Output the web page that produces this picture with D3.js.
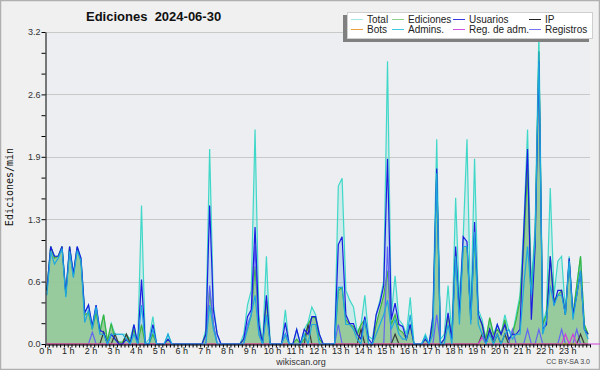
<!DOCTYPE html>
<html><head><meta charset="utf-8">
<script src="https://cdn.jsdelivr.net/npm/d3@7"></script>
<style>
html,body{margin:0;padding:0;background:#f0f0f0;}
svg{display:block;font-family:"Liberation Sans",Arial,sans-serif;}
</style>
</head><body>
<svg id="c" width="600" height="370"></svg>
<script>
const chartTitle = "Ediciones  2024-06-30";
const yTitle = "Ediciones/min";
const footerLeft = "wikiscan.org";
const footerRight = "CC BY-SA 3.0";
const hourLabels = ["0 h","1 h","2 h","3 h","4 h","5 h","6 h","7 h","8 h","9 h","10 h","11 h",
  "12 h","13 h","14 h","15 h","16 h","17 h","18 h","19 h","20 h","21 h","22 h","23 h"];
const yMajor = [0, 0.64, 1.28, 1.92, 2.56, 3.2];
const yMajorLabels = ["0.0","0.6","1.3","1.9","2.6","3.2"];
const seriesNames = ["Total","Ediciones","Usuarios","IP","Bots","Admins.","Reg. de adm.","Registros"];

// values per 10 minutes (6 per hour, one row per hour)
const total = [
 0.55,1.0,0.9,0.9,1.0,0.52,
 1.0,0.72,1.0,0.88,0.32,0.4,
 0.18,0.4,0.14,0.3,0.03,0.21,
 0.1,0.1,0.1,0.1,0.05,0.2,
 0,1.42,0,0.05,0.28,0,
 0,0,0.1,0,0,0,
 0,0,0,0,0,0,
 0.15,2.0,0.4,0.1,0,0,
 0,0,0,0,0.1,0.4,
 0.55,2.2,0.3,0,0.9,0,
 0,0,0,0.35,0,0,
 0.15,0,0.15,0.22,0.38,0.3,
 0.1,0,0,0,0,1.62,
 1.7,0.55,0.45,0.38,0.12,0.2,
 0.5,0.08,0.05,0.3,0.45,0.65,
 2.9,0.3,0.7,0.25,0.2,0.1,
 0.48,0,0,0,0.1,0,
 0.3,2.1,0.05,0.1,0.6,0.1,
 1.5,0.45,1.1,2.1,0.28,1.9,
 0.35,0.25,0.05,0.25,0.1,0.2,
 0.1,0.3,0.15,0.1,0.3,0.5,
 1.2,2.2,0.6,1.2,3.2,0.2,
 0.35,1.6,0.5,0.85,0.9,0.33,
 0.9,0.3,0.6,0.9,0.2,0.1];
const ediciones = [
 0.55,1.0,0.88,0.9,1.0,0.5,
 1.0,0.7,0.98,0.85,0.3,0.32,
 0.15,0.32,0.12,0.3,0.03,0.21,
 0.05,0.02,0.02,0.1,0.02,0.15,
 0,0.2,0,0,0.1,0,
 0,0,0.05,0,0,0,
 0,0,0,0,0,0,
 0.1,0.55,0.2,0,0,0,
 0,0,0,0,0.05,0.15,
 0.3,0.8,0.2,0,0.45,0,
 0,0,0,0.1,0,0,
 0.05,0,0.05,0.2,0.27,0.27,
 0.05,0,0,0,0,0.55,
 0.58,0.25,0.2,0.18,0.1,0.2,
 0.25,0,0,0.2,0.35,0.5,
 0.75,0.2,0.3,0.15,0.12,0.05,
 0.2,0,0,0,0.05,0,
 0.2,1.75,0,0.05,0.3,0.05,
 0.95,0.3,1.0,1.0,0.25,1.1,
 0.3,0.2,0.05,0.27,0.1,0.15,
 0.1,0.25,0.05,0.1,0.25,0.45,
 1.0,1.8,0.5,1.1,3.0,0.2,
 0.3,0.9,0.45,0.5,0.55,0.3,
 0.85,0.3,0.6,0.9,0.2,0.1];
const usuarios = [
 0.55,1.0,0.9,0.9,1.0,0.52,
 1.0,0.72,1.0,0.88,0.32,0.4,
 0.18,0.4,0.14,0.12,0,0.1,
 0.05,0,0,0.05,0,0.2,
 0,0.66,0,0,0.2,0,
 0,0,0.05,0,0,0,
 0,0,0,0,0,0,
 0.1,1.42,0.35,0.1,0,0,
 0,0,0,0,0.05,0.28,
 0.35,1.2,0.2,0,0.5,0,
 0,0,0,0.22,0,0,
 0.15,0,0.15,0.1,0.28,0.28,
 0.1,0,0,0,0,1.02,
 1.1,0.3,0.21,0.21,0.1,0.05,
 0.28,0.05,0,0.3,0.42,0.6,
 1.9,0.25,0.42,0.2,0.18,0.05,
 0.2,0,0,0,0.05,0,
 0.28,1.8,0,0.05,0.32,0.05,
 1.0,0.3,1.1,1.05,0.25,1.25,
 0.3,0.2,0,0.15,0.05,0.2,
 0.1,0.2,0.05,0.1,0.1,0.15,
 1.15,2.0,0.25,1.0,2.9,0.15,
 0.2,0.9,0.4,0.55,0.55,0.3,
 0.88,0.3,0.5,0.75,0.15,0.1];
const ip = [
 0,0,0,0,0,0, 0,0,0,0,0,0,
 0,0,0,0.12,0,0, 0.1,0,0,0.1,0,0,
 0,0,0,0,0,0, 0,0,0,0,0,0,
 0,0,0,0,0,0, 0,0,0,0,0,0,
 0,0,0,0,0,0, 0,0,0,0,0,0,
 0,0,0,0,0,0, 0,0,0,0.2,0,0,
 0,0,0,0,0,0, 0,0,0,0,0,0.15,
 0,0,0,0,0,0, 0,0,0.1,0,0,0,
 0,0,0,0,0,0, 0,0,0,0,0,0,
 0,0,0,0,0,0, 0,0.1,0,0.15,0,0.1,
 0,0.1,0,0,0,0, 0,0,0,0,0,0,
 0,0,0,0,0,0, 0,0,0,0.1,0,0];
const bots = new Array(144).fill(0);
const admins = [
 0.5,0.95,0.82,0.88,0.98,0.48,
 0.95,0.68,0.96,0.85,0.22,0.35,
 0.15,0.38,0.1,0.1,0,0.1,
 0.1,0.1,0.1,0.05,0,0.1,
 0,0.4,0,0,0.15,0,
 0,0,0.1,0,0,0,
 0,0,0,0,0,0,
 0,0.4,0.15,0,0,0,
 0,0,0,0,0,0.15,
 0.3,0.5,0.1,0,0.3,0,
 0,0,0,0.1,0,0,
 0,0,0.1,0,0.2,0.2,
 0,0,0,0,0,0.58,
 0.58,0.2,0.2,0.15,0.05,0,
 0.25,0,0,0.1,0.2,0.3,
 0.45,0.15,0.25,0.1,0.05,0.05,
 0.3,0,0,0,0.08,0,
 0.1,1.75,0,0,0.2,0,
 0.9,0.2,1.0,1.0,0.2,1.15,
 0.2,0.1,0,0.1,0,0.1,
 0,0.1,0.15,0.05,0.1,0.1,
 0.6,1.0,0.5,1.1,3.0,0.1,
 0.25,0.6,0.4,0.5,0.5,0.3,
 0.85,0.25,0.5,0.75,0.15,0.05];
const regAdm = [
 0,0,0,0,0,0, 0,0,0,0,0,0, 0,0,0,0,0,0, 0,0,0,0,0,0,
 0,0,0,0,0,0, 0,0,0,0,0,0, 0,0,0,0,0,0, 0,0,0,0,0,0,
 0,0,0,0,0,0, 0,0,0,0,0,0, 0,0,0,0,0,0, 0,0,0,0,0,0,
 0,0,0,0,0,0, 0,0,0,0,0,0, 0,0,0,0,0,0, 0,0,0,0,0,0,
 0,0,0,0,0,0, 0,0,0,0,0,0, 0,0,0,0,0,0, 0,0.07,0,0,0,0,
 0,0,0,0,0,0, 0,0,0,0,0,0, 0,0,0,0,0,0.1, 0,0.1,0,0,0,0,
 0,0,0,0,0.08,0, 0,0,0,0,0,0];
const registros = [
 0,0,0,0,0,0, 0,0,0,0,0,0, 0.12,0,0,0,0,0, 0,0,0,0,0,0,
 0,0,0,0,0,0, 0,0,0,0,0,0, 0,0,0,0,0,0, 0,0.6,0.2,0,0,0,
 0,0,0,0,0,0.2, 0.3,1.0,0.1,0,0,0, 0,0,0,0.1,0,0, 0,0,0,0,0,0,
 0,0,0,0,0,0.2, 0,0,0,0,0,0, 0,0,0,0,0,0, 1.0,0,0,0,0,0,
 0,0,0,0,0,0, 0,0.3,0,0,0,0, 0,0,0,0,0,0, 0,0,0,0,0,0,
 0,0,0,0.15,0,0, 0,0.15,0,0,0.15,0, 0,0,0,0,0.15,0,
 0,0,0.15,0,0,0];

const series = [
  {name:"Total", data:total, fill:"rgba(64,224,208,0.18)"},
  {name:"Usuarios", data:usuarios, fill:"rgba(80,80,230,0.12)"},
  {name:"Ediciones", data:ediciones, fill:"rgba(146,200,146,0.88)"}
];
const lineOrder = [
  {data:total, color:"#3fd8c8"},
  {data:ediciones, color:"#3cb43c"},
  {data:registros, color:"#6464f4"},
  {data:ip, color:"#3a3a3a"},
  {data:bots, color:"#f0a030"},
  {data:regAdm, color:"#d040d8"},
  {data:usuarios, color:"#1c1ce0"},
  {data:admins, color:"#1ea8e0"}
];
const legendColors = ["#a4e6e2","#8fd08f","#3a3ae4","#222222","#f0a040","#40c8e4","#d050e0","#7474f0"];

const svg = d3.select("#c");
const W = 600, H = 370;
const x0 = 45, x1 = 590, yTop = 32, yBot = 344;

svg.append("rect").attr("x",0).attr("y",0).attr("width",W).attr("height",H).attr("fill","#f0f0f0");
svg.append("rect").attr("x",0.5).attr("y",0.5).attr("width",W-1).attr("height",H-1)
  .attr("fill","none").attr("stroke","#b0b0b0").attr("stroke-width",1.5);

const xh = d3.scaleLinear().domain([0,24]).range([x0,x1]);
const xi = i => xh((i+0.5)/6);
const y = d3.scaleLinear().domain([0,3.2]).range([yBot,yTop]);

svg.append("rect").attr("x",x0).attr("y",yTop).attr("width",x1-x0).attr("height",yBot-yTop).attr("fill","#eceef1");

// grid
svg.append("g").selectAll("line").data(yMajor.slice(1)).join("line")
  .attr("x1",x0).attr("x2",x1).attr("y1",d=>Math.round(y(d))+0.5).attr("y2",d=>Math.round(y(d))+0.5)
  .attr("stroke","#c9c9c9").attr("stroke-width",1);

const area = d => d3.area().x((v,i)=>xi(i)).y0(yBot).y1(v=>y(v))(d);
const line = d => d3.line().x((v,i)=>xi(i)).y(v=>y(v))(d);

const gPlot = svg.append("g");
series.forEach(s => {
  gPlot.append("path").attr("d", area(s.data)).attr("fill", s.fill).attr("stroke","none");
});
lineOrder.forEach(s => {
  gPlot.append("path").attr("d", line(s.data)).attr("fill","none")
    .attr("stroke", s.color).attr("stroke-width",1.2).attr("stroke-linejoin","miter");
});

// y axis
const yMinor = d3.range(16).map(k => k*0.64/3);
const yAxis = d3.axisLeft(y).tickValues(yMinor).tickSize(4).tickSizeOuter(0).tickPadding(1)
  .tickFormat((d,i) => (i%3===0) ? yMajorLabels[i/3] : "");
const gy = svg.append("g").attr("transform",`translate(${x0+0.5},0)`).call(yAxis);
gy.selectAll("text").attr("font-size",9).attr("fill","#333").attr("font-family","Liberation Sans, Arial, sans-serif");
gy.selectAll("line,path").attr("stroke","#000");

// x axis
const xTicks = d3.range(0,145).map(k => k/6);
const xAxis = d3.axisBottom(xh).tickValues(xTicks).tickSize(3).tickSizeOuter(0).tickPadding(0)
  .tickFormat((d,i) => (i%6===0 && i/6 < 24) ? hourLabels[i/6] : "");
const gx = svg.append("g").attr("transform",`translate(0,${yBot+0.5})`).call(xAxis);
gx.selectAll("text").attr("font-size",9).attr("fill","#222").attr("font-family","Liberation Sans, Arial, sans-serif");
gx.selectAll("line,path").attr("stroke","#000");

// title
svg.append("text").attr("x",86).attr("y",21).text(chartTitle)
  .attr("font-size",13).attr("font-weight","bold").attr("fill","#111").style("white-space","pre");

// y title
svg.append("text").attr("transform","translate(13,187) rotate(-90)").attr("text-anchor","middle")
  .attr("font-family","DejaVu Sans Mono, monospace").attr("font-size",10).attr("fill","#111").text(yTitle);

// footer
svg.append("text").attr("x",301).attr("y",365).attr("text-anchor","middle").attr("font-size",9).attr("fill","#333").text(footerLeft);
svg.append("text").attr("x",590).attr("y",364).attr("text-anchor","end").attr("font-size",7).attr("fill","#444").text(footerRight);

// legend
const lg = svg.append("g");
lg.append("rect").attr("x",343).attr("y",15).attr("width",246).attr("height",27).attr("fill","#808080");
lg.append("rect").attr("x",347.5).attr("y",12.5).attr("width",245).attr("height",26).attr("fill","#fff").attr("stroke","#cfcfcf");
const colX = [367,408,469,545];
const rowY = [23,33];
seriesNames.forEach((n,k) => {
  const col = k%4, row = Math.floor(k/4);
  const tx = colX[col], ty = rowY[row];
  lg.append("line").attr("x1",tx-16).attr("x2",tx-4).attr("y1",ty-3.5).attr("y2",ty-3.5)
    .attr("stroke",legendColors[k]).attr("stroke-width",1);
  lg.append("text").attr("x",tx).attr("y",ty).attr("font-size",10).attr("fill","#222").text(n);
});
</script>
</body></html>
